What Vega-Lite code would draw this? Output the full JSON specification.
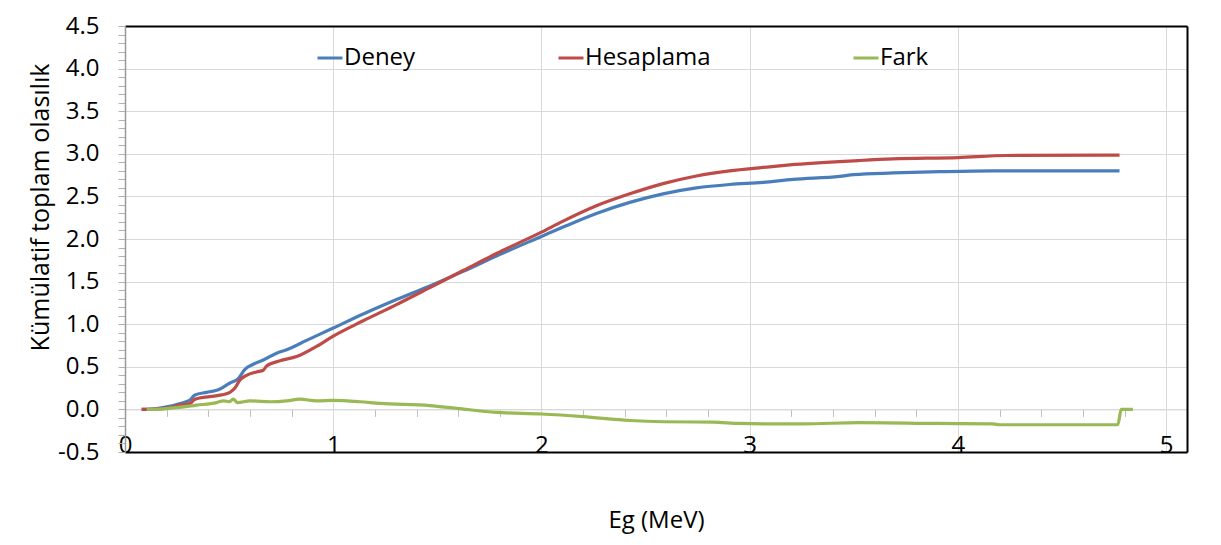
{
  "$schema": "https://vega.github.io/schema/vega-lite/v6.json",
  "width": 1062,
  "height": 426,
  "autosize": {"type": "none"},
  "padding": {"left": 125, "top": 26, "right": 34, "bottom": 93},
  "background": "white",
  "config": {"view": {"stroke": null}, "font": "Open Sans"},
  "data": {
    "values": [
      {"x": 0.08, "y": 0, "s": "Deney"},
      {"x": 0.15, "y": 0.01, "s": "Deney"},
      {"x": 0.2, "y": 0.03, "s": "Deney"},
      {"x": 0.264, "y": 0.07, "s": "Deney"},
      {"x": 0.312, "y": 0.11, "s": "Deney"},
      {"x": 0.336, "y": 0.17, "s": "Deney"},
      {"x": 0.392, "y": 0.2, "s": "Deney"},
      {"x": 0.448, "y": 0.23, "s": "Deney"},
      {"x": 0.504, "y": 0.31, "s": "Deney"},
      {"x": 0.544, "y": 0.36, "s": "Deney"},
      {"x": 0.576, "y": 0.47, "s": "Deney"},
      {"x": 0.616, "y": 0.53, "s": "Deney"},
      {"x": 0.664, "y": 0.58, "s": "Deney"},
      {"x": 0.728, "y": 0.66, "s": "Deney"},
      {"x": 0.776, "y": 0.7, "s": "Deney"},
      {"x": 0.872, "y": 0.81, "s": "Deney"},
      {"x": 1.0, "y": 0.955, "s": "Deney"},
      {"x": 1.144, "y": 1.12, "s": "Deney"},
      {"x": 1.304, "y": 1.29, "s": "Deney"},
      {"x": 1.464, "y": 1.45, "s": "Deney"},
      {"x": 1.624, "y": 1.62, "s": "Deney"},
      {"x": 1.784, "y": 1.8, "s": "Deney"},
      {"x": 2.0, "y": 2.03, "s": "Deney"},
      {"x": 2.104, "y": 2.14, "s": "Deney"},
      {"x": 2.264, "y": 2.3, "s": "Deney"},
      {"x": 2.424, "y": 2.43, "s": "Deney"},
      {"x": 2.584, "y": 2.53, "s": "Deney"},
      {"x": 2.744, "y": 2.6, "s": "Deney"},
      {"x": 2.904, "y": 2.64, "s": "Deney"},
      {"x": 3.064, "y": 2.665, "s": "Deney"},
      {"x": 3.208, "y": 2.7, "s": "Deney"},
      {"x": 3.432, "y": 2.735, "s": "Deney"},
      {"x": 3.5, "y": 2.755, "s": "Deney"},
      {"x": 3.688, "y": 2.775, "s": "Deney"},
      {"x": 3.912, "y": 2.79, "s": "Deney"},
      {"x": 4.168, "y": 2.8, "s": "Deney"},
      {"x": 4.776, "y": 2.8, "s": "Deney"},
      {"x": 0.08, "y": 0, "s": "Hesaplama"},
      {"x": 0.15, "y": 0.005, "s": "Hesaplama"},
      {"x": 0.2, "y": 0.015, "s": "Hesaplama"},
      {"x": 0.264, "y": 0.05, "s": "Hesaplama"},
      {"x": 0.312, "y": 0.07, "s": "Hesaplama"},
      {"x": 0.336, "y": 0.12, "s": "Hesaplama"},
      {"x": 0.408, "y": 0.15, "s": "Hesaplama"},
      {"x": 0.464, "y": 0.17, "s": "Hesaplama"},
      {"x": 0.504, "y": 0.2, "s": "Hesaplama"},
      {"x": 0.528, "y": 0.25, "s": "Hesaplama"},
      {"x": 0.552, "y": 0.345, "s": "Hesaplama"},
      {"x": 0.584, "y": 0.4, "s": "Hesaplama"},
      {"x": 0.632, "y": 0.44, "s": "Hesaplama"},
      {"x": 0.664, "y": 0.46, "s": "Hesaplama"},
      {"x": 0.68, "y": 0.51, "s": "Hesaplama"},
      {"x": 0.744, "y": 0.57, "s": "Hesaplama"},
      {"x": 0.824, "y": 0.62, "s": "Hesaplama"},
      {"x": 0.92, "y": 0.74, "s": "Hesaplama"},
      {"x": 1.0, "y": 0.86, "s": "Hesaplama"},
      {"x": 1.144, "y": 1.04, "s": "Hesaplama"},
      {"x": 1.304, "y": 1.23, "s": "Hesaplama"},
      {"x": 1.464, "y": 1.43, "s": "Hesaplama"},
      {"x": 1.624, "y": 1.63, "s": "Hesaplama"},
      {"x": 1.784, "y": 1.83, "s": "Hesaplama"},
      {"x": 2.0, "y": 2.08, "s": "Hesaplama"},
      {"x": 2.104, "y": 2.21, "s": "Hesaplama"},
      {"x": 2.264, "y": 2.39, "s": "Hesaplama"},
      {"x": 2.424, "y": 2.53, "s": "Hesaplama"},
      {"x": 2.584, "y": 2.65, "s": "Hesaplama"},
      {"x": 2.744, "y": 2.74, "s": "Hesaplama"},
      {"x": 2.904, "y": 2.8, "s": "Hesaplama"},
      {"x": 3.064, "y": 2.84, "s": "Hesaplama"},
      {"x": 3.192, "y": 2.87, "s": "Hesaplama"},
      {"x": 3.52, "y": 2.92, "s": "Hesaplama"},
      {"x": 3.688, "y": 2.94, "s": "Hesaplama"},
      {"x": 4.0, "y": 2.955, "s": "Hesaplama"},
      {"x": 4.232, "y": 2.98, "s": "Hesaplama"},
      {"x": 4.776, "y": 2.985, "s": "Hesaplama"},
      {"x": 0.104, "y": 0, "s": "Fark"},
      {"x": 0.2, "y": 0.01, "s": "Fark"},
      {"x": 0.344, "y": 0.05, "s": "Fark"},
      {"x": 0.44, "y": 0.08, "s": "Fark"},
      {"x": 0.472, "y": 0.1, "s": "Fark"},
      {"x": 0.5, "y": 0.09, "s": "Fark"},
      {"x": 0.52, "y": 0.12, "s": "Fark"},
      {"x": 0.54, "y": 0.08, "s": "Fark"},
      {"x": 0.6, "y": 0.1, "s": "Fark"},
      {"x": 0.7, "y": 0.09, "s": "Fark"},
      {"x": 0.776, "y": 0.1, "s": "Fark"},
      {"x": 0.84, "y": 0.12, "s": "Fark"},
      {"x": 0.92, "y": 0.1, "s": "Fark"},
      {"x": 1.0, "y": 0.105, "s": "Fark"},
      {"x": 1.128, "y": 0.09, "s": "Fark"},
      {"x": 1.224, "y": 0.07, "s": "Fark"},
      {"x": 1.464, "y": 0.045, "s": "Fark"},
      {"x": 1.592, "y": 0.013, "s": "Fark"},
      {"x": 1.784, "y": -0.035, "s": "Fark"},
      {"x": 2.0, "y": -0.054, "s": "Fark"},
      {"x": 2.2, "y": -0.085, "s": "Fark"},
      {"x": 2.424, "y": -0.13, "s": "Fark"},
      {"x": 2.584, "y": -0.145, "s": "Fark"},
      {"x": 2.824, "y": -0.15, "s": "Fark"},
      {"x": 2.952, "y": -0.165, "s": "Fark"},
      {"x": 3.144, "y": -0.17, "s": "Fark"},
      {"x": 3.256, "y": -0.17, "s": "Fark"},
      {"x": 3.528, "y": -0.155, "s": "Fark"},
      {"x": 3.896, "y": -0.165, "s": "Fark"},
      {"x": 4.168, "y": -0.17, "s": "Fark"},
      {"x": 4.2, "y": -0.18, "s": "Fark"},
      {"x": 4.768, "y": -0.18, "s": "Fark"},
      {"x": 4.784, "y": 0, "s": "Fark"},
      {"x": 4.84, "y": 0, "s": "Fark"}
    ]
  },
  "resolve": {"axis": {"x": "independent", "y": "independent"}},
  "layer": [
    {
      "mark": {"type": "line", "opacity": 0},
      "encoding": {
        "detail": {"field": "s"},
        "x": {
          "field": "x", "type": "quantitative",
          "scale": {"domain": [0, 5.1], "nice": false, "zero": false},
          "axis": {
            "orient": "bottom", "offset": -42.6,
            "values": [0.2, 0.4, 0.6, 0.8, 1.2, 1.4, 1.6, 1.8, 2.2, 2.4, 2.6, 2.8, 3.2, 3.4, 3.6, 3.8, 4.2, 4.4, 4.6, 4.8],
            "labels": false, "grid": false, "domain": true, "domainColor": "#d9d9d9", "domainWidth": 1,
            "ticks": true, "tickColor": "#bfbfbf", "tickSize": 7, "tickWidth": 1, "title": null
          }
        },
        "y": {
          "field": "y", "type": "quantitative",
          "scale": {"domain": [-0.5, 4.5], "nice": false, "zero": false},
          "axis": null
        }
      }
    },
    {
      "mark": {"type": "line", "opacity": 0},
      "encoding": {
        "detail": {"field": "s"},
        "x": {
          "field": "x", "type": "quantitative",
          "scale": {"domain": [0, 5.1], "nice": false, "zero": false},
          "axis": {"orient": "top", "labels": false, "ticks": false, "grid": false, "domain": true, "domainColor": "#000000", "domainWidth": 2, "title": null}
        },
        "y": {
          "field": "y", "type": "quantitative",
          "scale": {"domain": [-0.5, 4.5], "nice": false, "zero": false},
          "axis": {"orient": "right", "labels": false, "ticks": false, "grid": false, "domain": true, "domainColor": "#000000", "domainWidth": 2, "title": null}
        }
      }
    },
    {
      "mark": {"type": "line", "strokeWidth": 3.2, "interpolate": "monotone"},
      "encoding": {
        "x": {
          "field": "x", "type": "quantitative",
          "scale": {"domain": [0, 5.1], "nice": false, "zero": false},
          "axis": {
            "orient": "bottom", "values": [0, 1, 2, 3, 4, 5], "format": "d",
            "grid": true, "gridColor": "#d9d9d9", "gridWidth": 1,
            "domain": true, "domainColor": "#000000", "domainWidth": 2,
            "ticks": false, "tickSize": 0,
            "labelFontSize": 24, "labelFont": "Open Sans", "labelColor": "#000000",
            "labelBaseline": "middle", "labelPadding": -7, "labelFlush": false, "labelBound": false, "labelOverlap": false,
            "title": "Eg (MeV)", "titleFontSize": 24, "titleFont": "Open Sans", "titleFontWeight": "normal", "titleColor": "#000000",
            "titleY": 68, "titleBaseline": "middle"
          }
        },
        "y": {
          "field": "y", "type": "quantitative",
          "scale": {"domain": [-0.5, 4.5], "nice": false, "zero": false},
          "axis": {
            "values": [-0.5, -0.4, -0.3, -0.2, -0.1, 0, 0.1, 0.2, 0.3, 0.4, 0.5, 0.6, 0.7, 0.8, 0.9, 1, 1.1, 1.2, 1.3, 1.4, 1.5, 1.6, 1.7, 1.8, 1.9, 2, 2.1, 2.2, 2.3, 2.4, 2.5, 2.6, 2.7, 2.8, 2.9, 3, 3.1, 3.2, 3.3, 3.4, 3.5, 3.6, 3.7, 3.8, 3.9, 4, 4.1, 4.2, 4.3, 4.4, 4.5],
            "labelExpr": "abs(datum.value*2 - round(datum.value*2)) < 0.01 ? (datum.value < -0.01 ? '-' + format(-datum.value, '.1f') : format(abs(datum.value), '.1f')) : ''",
            "grid": true, "gridColor": "#d9d9d9", "gridWidth": 1,
            "gridOpacity": {"condition": {"test": "abs(datum.value*2 - round(datum.value*2)) < 0.01", "value": 1}, "value": 0},
            "domain": true, "domainColor": "#999999", "domainWidth": 1.5,
            "ticks": true, "tickColor": "#b0b0b0", "tickSize": 7, "tickWidth": 1,
            "labelFontSize": 24, "labelFont": "Open Sans", "labelColor": "#000000", "labelPadding": 19,
            "labelOverlap": false, "labelBound": false, "labelFlush": false,
            "title": "Kümülatif toplam olasılık", "titleFontSize": 25, "titleFont": "Open Sans", "titleFontWeight": "normal", "titleColor": "#000000",
            "titleX": -85, "titleY": 181, "titleBaseline": "middle", "titleAlign": "center", "titleAngle": 270
          }
        },
        "color": {
          "field": "s", "type": "nominal",
          "scale": {"domain": ["Deney", "Hesaplama", "Fark"], "range": ["#4A7EBB", "#BE4B48", "#98B954"]},
          "legend": {
            "orient": "none", "legendX": 191, "legendY": 18, "direction": "horizontal", "title": null,
            "symbolType": "stroke", "symbolSize": 625, "symbolStrokeWidth": 3,
            "labelFontSize": 24, "labelFont": "Open Sans", "labelColor": "#000000", "labelOffset": 0,
            "columnPadding": 136, "labelLimit": 300
          }
        }
      }
    }
  ]
}
